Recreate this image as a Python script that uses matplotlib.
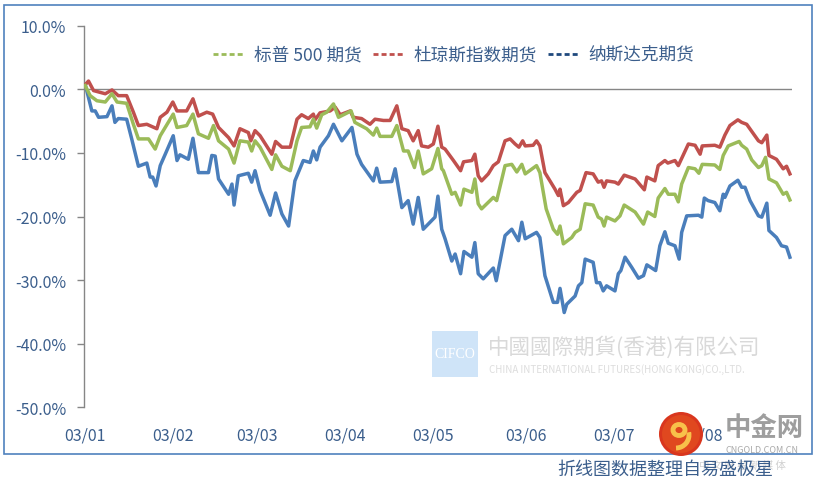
import matplotlib
matplotlib.use('Agg')
import matplotlib.pyplot as plt
from matplotlib.lines import Line2D
from matplotlib.patches import Rectangle, Ellipse, Arc

plt.rcParams['font.family'] = ['Noto Sans CJK SC', 'DejaVu Sans']

# ---- data (trading-day index, cumulative % change) ----
sp_days = [0, 1.2, 2.8, 4.8, 6.4, 7.6, 9.9, 11.5, 12.7, 15.1, 16.7, 17.9, 21.0, 21.9, 24.2, 25.7, 27.0, 29.4,
           30.6, 31.8, 34.2, 35.5, 36.9, 38.9, 39.7, 40.5, 41.7, 44.5, 45.4, 46.9, 48.9, 50.5, 51.6, 53.6, 54.4,
           55.2, 56.4, 57.6, 59.2, 60.4, 63.4, 64.3, 67.1, 68.7, 69.5, 70.3, 73.1, 74.3, 75.9, 77.0, 78.5, 79.4,
           80.6, 82.6, 84.1, 85.0, 85.4, 87.4, 88.2, 89.5, 90.3, 92.2, 92.9, 93.7, 94.5, 97.3, 98.1, 100.1, 101.7,
           102.9, 104.1, 104.9, 107.6, 108.4, 109.9, 111.6, 112.6, 113.2, 114.0, 116.0, 116.8, 118.0, 119.2,
           121.1, 122.3, 123.1, 123.7, 124.3, 126.3, 127.5, 128.5, 131.1, 133.1, 134.1, 135.8, 136.6, 138.2,
           139.0, 140.6, 141.4, 142.2, 143.8, 145.4, 146.3, 147.1, 150.1, 151.3, 152.1, 153.3, 155.9, 156.5,
           157.7, 158.9, 160.5, 161.3, 162.2, 163.0, 164.8, 166.4, 167.2, 168.0]
sp_vals = [0.6, -1.0, -1.8, -2.0, -0.7, -2.0, -2.2, -5.5, -7.8, -7.8, -9.4, -7.3, -3.9, -6.0, -5.7, -3.9, -7.0, -7.7,
           -5.7, -8.1, -9.4, -11.6, -8.1, -8.3, -9.7, -8.1, -9.1, -12.6, -10.3, -12.1, -12.8, -8.1, -6.0, -5.9, -4.7,
           -6.1, -4.0, -3.6, -2.3, -4.4, -3.4, -5.2, -6.2, -7.2, -6.1, -7.4, -7.4, -5.7, -9.7, -9.7, -12.3, -9.7,
           -13.3, -12.5, -9.3, -12.5, -12.8, -16.5, -16.2, -18.2, -15.7, -16.2, -14.1, -18.0, -18.8, -17.0, -17.5,
           -12.0, -11.8, -13.0, -11.8, -13.3, -12.0, -13.1, -18.8, -22.0, -22.8, -21.5, -24.3, -23.3, -22.5, -22.0,
           -18.0, -18.2, -20.1, -20.4, -21.5, -20.1, -20.7, -19.9, -18.2, -19.3, -21.2, -19.3, -20.0, -17.1, -15.6,
           -16.5, -16.5, -17.7, -14.9, -12.3, -12.5, -13.2, -11.8, -11.9, -12.6, -10.4, -8.9, -8.2, -8.8, -9.4,
           -11.1, -12.3, -12.0, -10.7, -14.1, -14.7, -16.5, -16.2, -17.4]

dj_days = [0, 0.8, 2.0, 4.8, 6.4, 7.9, 9.9, 11.5, 12.7, 14.7, 17.1, 17.9, 19.5, 20.9, 21.9, 24.2, 25.7, 27.0,
           29.0, 30.4, 31.8, 34.2, 35.5, 36.9, 38.9, 39.5, 40.5, 41.7, 44.5, 45.4, 46.9, 48.9, 50.5, 51.6, 53.2,
           54.4, 54.8, 56.0, 58.4, 59.6, 60.8, 63.2, 63.9, 65.9, 67.9, 69.1, 71.1, 72.7, 74.3, 75.5, 77.0, 78.2,
           79.4, 80.2, 81.8, 83.0, 84.1, 85.0, 85.8, 87.8, 89.5, 90.2, 92.2, 92.9, 93.7, 94.5, 96.1, 97.3, 98.5,
           100.1, 101.3, 102.5, 103.4, 104.3, 104.9, 106.8, 107.6, 108.4, 109.6, 112.0, 112.8, 113.2, 114.0,
           115.2, 117.2, 118.0, 119.4, 121.1, 122.3, 123.1, 123.7, 124.3, 126.3, 127.1, 128.5, 131.1, 133.3,
           133.9, 135.8, 136.6, 138.2, 138.9, 140.6, 141.4, 143.8, 145.4, 146.6, 147.1, 150.1, 151.3, 152.5,
           153.7, 155.6, 156.5, 157.7, 160.5, 161.3, 162.5, 163.0, 164.8, 166.4, 167.2, 168.0]
dj_vals = [0.7, 1.3, -0.2, -0.7, -0.1, -1.0, -1.0, -3.6, -5.7, -5.5, -6.2, -4.4, -3.6, -2.0, -3.4, -3.4, -1.5, -4.2,
           -3.6, -3.9, -6.0, -7.6, -8.9, -6.2, -6.8, -8.1, -6.5, -7.3, -10.2, -8.2, -9.1, -9.1, -4.7, -4.0, -4.6,
           -3.9, -4.8, -3.7, -3.4, -2.8, -4.0, -3.4, -4.4, -4.6, -5.5, -4.7, -4.9, -4.9, -2.6, -6.2, -6.5, -8.1,
           -6.5, -8.9, -9.1, -8.6, -5.8, -9.1, -9.4, -11.2, -12.8, -11.4, -11.2, -10.2, -13.6, -14.4, -13.3, -12.0,
           -11.4, -8.1, -7.8, -8.6, -9.1, -8.1, -8.9, -8.8, -8.1, -8.9, -13.1, -15.7, -16.7, -15.7, -18.3, -17.8,
           -16.2, -15.9, -13.1, -13.3, -14.6, -14.4, -15.4, -14.4, -14.6, -14.9, -13.5, -14.1, -15.8, -13.8, -14.4,
           -12.0, -11.2, -11.6, -11.2, -12.0, -8.6, -8.8, -10.2, -8.9, -8.8, -9.1, -7.2, -5.7, -4.8, -5.2, -5.5,
           -8.1, -8.4, -7.2, -10.4, -11.0, -12.5, -12.1, -13.3]

nq_days = [0, 1.6, 2.4, 3.2, 5.2, 6.4, 7.1, 7.9, 9.9, 11.1, 12.7, 14.7, 15.5, 16.1, 16.9, 17.9, 19.1, 21.0, 21.9,
           22.6, 24.6, 25.7, 27.0, 29.4, 30.2, 31.0, 31.8, 34.2, 35.0, 35.5, 36.5, 38.9, 39.7, 40.5, 41.7, 44.1,
           45.4, 46.9, 48.5, 50.0, 52.0, 53.6, 54.4, 55.2, 56.0, 58.0, 59.2, 61.2, 63.6, 64.8, 65.9, 68.7, 69.5,
           70.3, 73.1, 73.9, 75.5, 77.0, 78.2, 79.4, 80.6, 83.4, 84.1, 85.0, 85.8, 87.4, 88.2, 89.5, 90.3, 92.2,
           92.9, 93.7, 94.9, 97.3, 98.0, 100.1, 101.7, 103.3, 104.1, 104.9, 107.6, 108.4, 109.6, 111.6, 112.6,
           113.2, 114.2, 114.8, 116.8, 117.6, 118.4, 119.2, 121.1, 121.9, 122.7, 123.5, 124.3, 126.3, 127.1,
           127.7, 128.7, 130.3, 131.9, 133.1, 133.9, 136.0, 137.0, 138.2, 139.0, 140.6, 141.6, 142.2, 143.4,
           146.2, 147.0, 147.6, 148.5, 150.1, 151.3, 152.1, 152.5, 153.7, 155.6, 156.5, 157.3, 158.5, 160.5,
           161.3, 162.5, 163.0, 164.8, 166.0, 167.2, 168.0]
nq_vals = [0.8, -3.4, -3.4, -4.4, -4.3, -2.6, -5.2, -4.6, -4.7, -7.8, -12.1, -11.6, -13.8, -13.8, -15.2, -12.0,
           -10.2, -7.3, -11.2, -10.3, -11.0, -7.7, -13.1, -13.1, -10.4, -10.5, -14.1, -16.5, -14.9, -18.2, -13.6,
           -13.2, -14.6, -12.8, -15.9, -19.8, -16.3, -19.6, -21.5, -14.4, -11.2, -11.5, -9.7, -11.1, -9.1, -7.3,
           -5.5, -8.1, -6.0, -10.2, -11.8, -14.4, -12.4, -14.6, -14.5, -12.5, -18.6, -17.5, -21.2, -17.0, -22.0,
           -20.1, -16.8, -22.0, -23.5, -27.0, -25.9, -29.0, -25.5, -26.4, -24.1, -29.0, -29.8, -28.1, -30.1, -23.0,
           -22.0, -23.8, -20.9, -23.5, -22.5, -23.3, -29.3, -33.5, -33.5, -31.3, -35.1, -33.8, -32.5, -30.9, -30.4,
           -26.7, -27.2, -30.4, -30.4, -31.7, -30.9, -31.7, -29.0, -28.5, -26.4, -28.0, -29.7, -29.3, -27.6, -28.5,
           -24.6, -22.4, -24.2, -24.6, -26.7, -22.5, -19.9, -19.8, -20.1, -17.1, -17.5, -17.8, -19.1, -16.5, -17.0,
           -15.2, -14.3, -15.4, -15.4, -17.5, -19.9, -20.1, -17.9, -22.2, -23.3, -24.6, -24.8, -26.4]

series_names = ['标普 500 期货', '杜琼斯指数期货', '纳斯达克期货']
month_ticks = [0, 21, 41, 62, 83, 105, 126, 147]
month_labels = ['03/01', '03/02', '03/03', '03/04', '03/05', '03/06', '03/07', '03/08']
y_ticks = [10, 0, -10, -20, -30, -40, -50]

# ---- style ----
W, H = 816, 485
text_blue = '#3B5E8C'
c_green, c_red, c_blue, c_navy = '#9BBB59', '#C0504D', '#4A7EBB', '#1F497D'
axis_gray = '#868686'

fig = plt.figure(figsize=(W / 100, H / 100), dpi=100)
ax = fig.add_axes([84.3 / W, 1 - 408.3 / H, (792 - 84.3) / W, (408.3 - 26.7) / H])

ax.plot(nq_days, nq_vals, color=c_blue, lw=2.5, zorder=2, solid_joinstyle='round')
ax.plot(dj_days, dj_vals, color=c_red, lw=2.5, zorder=3, solid_joinstyle='round')
ax.plot(sp_days, sp_vals, color=c_green, lw=2.5, zorder=4, solid_joinstyle='round')
ax.axhline(0, color=axis_gray, lw=1.0, zorder=1)

ax.set_xlim(-0.2, 168.5)
ax.set_ylim(-50, 10)
ax.set_yticks(y_ticks)
ax.set_yticklabels([f'{v:.1f}%' for v in y_ticks])
ax.set_xticks(month_ticks)
ax.set_xticklabels(month_labels)

for s in ['top', 'right', 'bottom']:
    ax.spines[s].set_visible(False)
ax.spines['left'].set_color(axis_gray)
ax.spines['left'].set_linewidth(1.0)
ax.tick_params(axis='y', direction='out', length=5, width=1.0, color=axis_gray,
               labelcolor=text_blue, labelsize=11.5, pad=8)
ax.tick_params(axis='x', length=0, labelcolor=text_blue, labelsize=11.5, pad=14)

dash = (0, (1.8, 1.1))
handles = [Line2D([], [], color=c_green, lw=2.0, linestyle=dash),
           Line2D([], [], color=c_red, lw=2.0, linestyle=dash),
           Line2D([], [], color=c_navy, lw=2.0, linestyle=dash)]
leg = ax.legend(handles, series_names, loc='center', bbox_to_anchor=(0.522, 0.924), ncol=3,
                frameon=False, fontsize=12.7, handlelength=1.7, handletextpad=0.6,
                columnspacing=0.65, labelcolor=text_blue)

# watermark: CIFCO
fig.patches.append(Rectangle((432 / W, 1 - 378 / H), 46 / W, 46 / H, transform=fig.transFigure,
                             facecolor='#CFE4F8', edgecolor='none', zorder=0))
fig.text(455 / W, 1 - 355 / H, 'CIFCO', color='white', fontsize=10, family=['Liberation Serif'],
         ha='center', va='center', zorder=1)
fig.text(488 / W, 1 - 347 / H, '中國國際期貨(香港)有限公司', color='#D9D9D9', fontsize=15.5,
         ha='left', va='center', zorder=1)
fig.text(489 / W, 1 - 370 / H, 'CHINA INTERNATIONAL FUTURES(HONG KONG)CO.,LTD.', color='#DDDDDD',
         fontsize=7, ha='left', va='center', zorder=1)

# outer frame
fig.patches.append(Rectangle((3.5 / W, 1 - 455 / H), (812 - 3.5) / W, (455 - 6) / H,
                             transform=fig.transFigure, facecolor='none', edgecolor='#4F81BD',
                             lw=1.2, zorder=5))

# source note
fig.text(773 / W, 1 - 470 / H, '折线图数据整理自易盛极星', color=text_blue, fontsize=13,
         ha='right', va='center', zorder=6)

# cngold watermark logo
fig.patches.append(Ellipse((681 / W, 1 - 435 / H), 44 / W, 44 / H, transform=fig.transFigure,
                           facecolor='#D9361E', edgecolor='none', zorder=7))
fig.patches.append(Ellipse((681 / W, 1 - 435 / H), 38 / W, 38 / H, transform=fig.transFigure,
                           facecolor='#E0481F', edgecolor='none', zorder=7))
fig.patches.append(Ellipse((679 / W, 1 - 431 / H), 12 / W, 11 / H, transform=fig.transFigure,
                           facecolor='none', edgecolor='#F8C14A', lw=3.5, zorder=8))
fig.patches.append(Arc((676 / W, 1 - 436 / H), 26 / W, 26 / H, theta1=270, theta2=20,
                       transform=fig.transFigure, edgecolor='#F8C14A', lw=3.5, zorder=8))
fig.text(764 / W, 1 - 429 / H, '中金网', color='#9E9E9E', fontsize=19, fontweight='bold',
         ha='center', va='center', zorder=8)
fig.text(762 / W, 1 - 451 / H, 'CNGOLD.COM.CN', color='#AAAAAA', fontsize=6.5,
         ha='center', va='center', zorder=8)
fig.text(742 / W, 1 - 466 / H, '中 文 财 经 新 媒 体', color='#D0D0D0', fontsize=7.5,
         ha='center', va='center', zorder=5)

fig.savefig('out.png', dpi=100)
